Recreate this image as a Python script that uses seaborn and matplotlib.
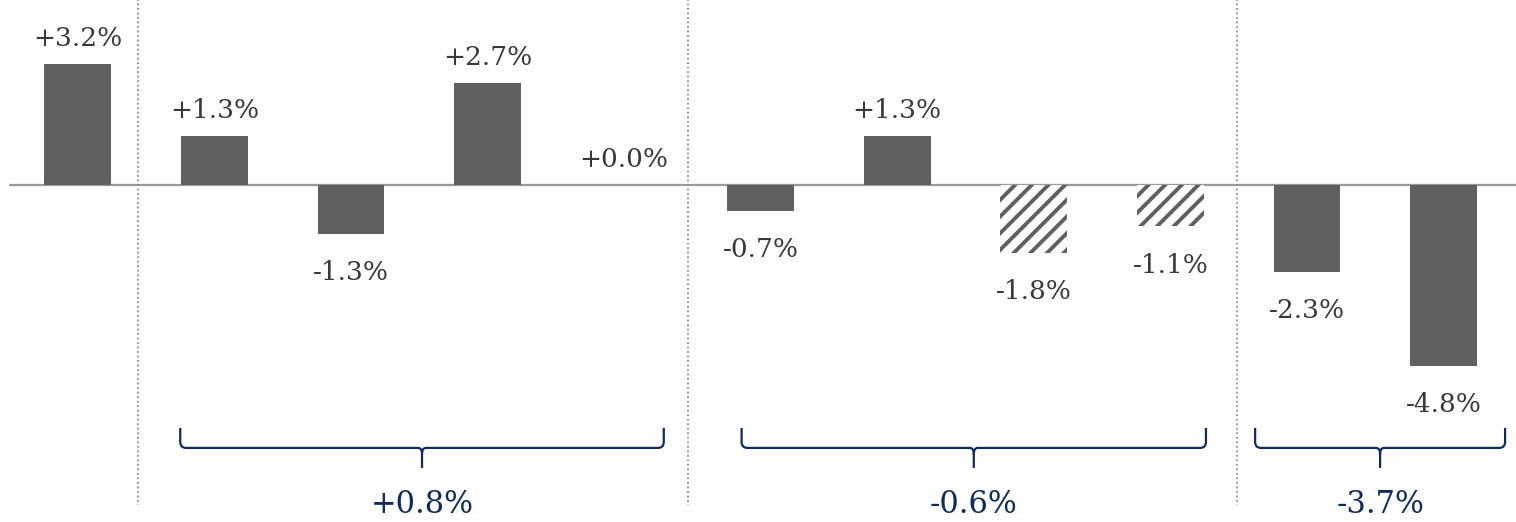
import numpy as np
import pandas as pd
import matplotlib.pyplot as plt
import seaborn as sns
from matplotlib.path import Path
from matplotlib.patches import PathPatch

# ── data ─────────────────────────────────────────────
slots  = ['s1', 's2', 's3', 's4', 's5', 's6', 's7', 's8', 's9', 's10', 's11']
values = [3.2, 1.3, -1.3, 2.7, 0.0, -0.7, 1.3, -1.8, -1.1, -2.3, -4.8]
hatched = [False, False, False, False, False, False, False, True, True, False, False]

group_labels = ['+0.8%', '-0.6%', '-3.7%']
group_spans  = [(0.75, 4.29), (4.86, 8.26), (8.62, 10.45)]
separators   = [0.44, 4.47, 8.49]

BAR   = '#606060'
TEXT  = '#383838'
NAVY  = '#0f2b5b'

sns.set_style('white')
plt.rcParams['font.family'] = ['DejaVu Serif']
plt.rcParams['hatch.linewidth'] = 2.8

df = pd.DataFrame({'slot': slots, 'value': values})

fig = plt.figure(figsize=(15.16, 5.22), dpi=100)
ax = fig.add_axes([0, 0, 1, 1])

sns.barplot(data=df, x='slot', y='value', order=slots, color=BAR,
            saturation=1, width=0.49, ax=ax, errorbar=None)

for p, h in zip(ax.patches, hatched):
    p.set_linewidth(0)
    if h:
        p.set_facecolor('white')
        p.set_edgecolor(BAR)
        p.set_hatch('//')

# zero line
ax.plot([-0.5, 10.6], [0, 0], color='#9a9a9a', lw=1.6, zorder=0)

# separators
for s in separators:
    ax.plot([s, s], [5.0, -8.47], color='#8c8c8c', lw=1.3, ls=(0, (1, 1.5)), zorder=0)

# bar labels
for i, v in enumerate(values):
    lab = f'{v:+.1f}%'
    if v >= 0:
        ax.text(i, v + 0.46, lab, ha='center', va='baseline',
                fontsize=19, color=TEXT)
    else:
        ax.text(i, v - 1.22, lab, ha='center', va='baseline',
                fontsize=19, color=TEXT)

# braces
dx = 1 / 136.6
dy = 1 / 37.8
y_top, y_mid, y_tip = -6.43, -6.96, -7.49
for (x0, x1), lab in zip(group_spans, group_labels):
    xc = (x0 + x1) / 2
    r = 6
    verts = [
        (x0, y_top), (x0, y_mid + r * dy), (x0, y_mid), (x0 + r * dx, y_mid),
        (xc - 4 * dx, y_mid), (xc, y_mid), (xc, y_mid - 6 * dy),
        (xc, y_tip),
    ]
    codes = [Path.MOVETO, Path.LINETO, Path.CURVE3, Path.CURVE3,
             Path.LINETO, Path.CURVE3, Path.CURVE3, Path.LINETO]
    ax.add_patch(PathPatch(Path(verts, codes), fill=False, edgecolor=NAVY, lw=1.6))
    verts_r = [
        (x1, y_top), (x1, y_mid + r * dy), (x1, y_mid), (x1 - r * dx, y_mid),
        (xc + 4 * dx, y_mid), (xc, y_mid), (xc, y_mid - 6 * dy),
    ]
    codes_r = [Path.MOVETO, Path.LINETO, Path.CURVE3, Path.CURVE3,
               Path.LINETO, Path.CURVE3, Path.CURVE3]
    ax.add_patch(PathPatch(Path(verts_r, codes_r), fill=False, edgecolor=NAVY, lw=1.6))
    ax.text(xc, -8.47, lab, ha='center', va='center', fontsize=22, color=NAVY)

ax.set_xlim(-0.57, 10.53)
ax.set_ylim(-8.92, 4.89)
ax.axis('off')

plt.savefig('out.png', dpi=100)
